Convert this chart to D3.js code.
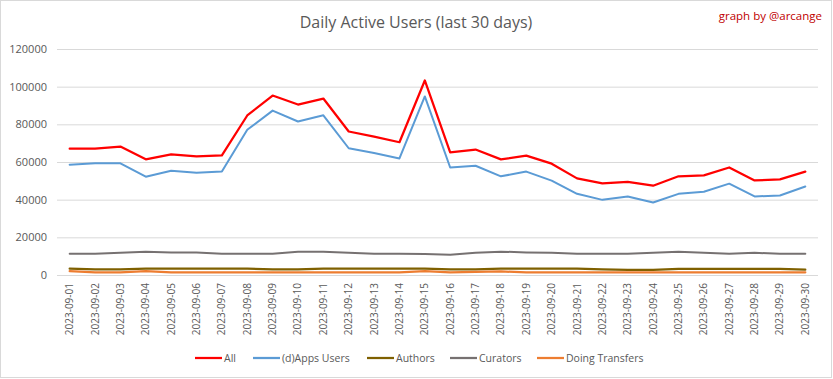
<!DOCTYPE html>
<html><head><meta charset="utf-8">
<script src="https://cdn.jsdelivr.net/npm/d3@7"></script>
<style>body{margin:0;background:#fff}svg{display:block}text{font-family:"Open Sans",sans-serif}</style>
</head><body><svg id="c" width="833" height="379"></svg>
<script>
const dates = ["2023-09-01","2023-09-02","2023-09-03","2023-09-04","2023-09-05","2023-09-06","2023-09-07","2023-09-08","2023-09-09","2023-09-10","2023-09-11","2023-09-12","2023-09-13","2023-09-14","2023-09-15","2023-09-16","2023-09-17","2023-09-18","2023-09-19","2023-09-20","2023-09-21","2023-09-22","2023-09-23","2023-09-24","2023-09-25","2023-09-26","2023-09-27","2023-09-28","2023-09-29","2023-09-30"];
const allUsers = [67100,67100,68200,61400,64100,63000,63500,84700,95300,90500,93700,76200,73500,70500,103300,65100,66600,61400,63400,59100,51300,48600,49500,47400,52400,52900,57100,50200,50800,54900];
const appsUsers = [58600,59300,59300,52200,55400,54300,54900,77100,87300,81500,84800,67300,64800,61900,94800,57100,58000,52400,54900,50100,43100,39900,41700,38500,43100,44200,48500,41700,42200,47000];
const authors = [3400,3000,3000,3400,3400,3400,3400,3400,3000,3000,3400,3400,3400,3400,3400,3000,3000,3400,3400,3400,3400,3000,2700,2700,3300,3300,3300,3300,3300,2800];
const curators = [11300,11300,11800,12400,12000,12000,11300,11300,11300,12400,12400,11800,11300,11300,11200,10700,11800,12400,12000,11800,11300,11300,11300,11800,12400,11800,11300,11800,11300,11300];
const transfers = [2000,1400,1400,2000,1400,1400,1400,1400,1400,1400,1400,1400,1400,1400,2100,1400,1600,1900,1400,1400,1400,1400,1400,1400,1400,1400,1400,1400,1400,1400];
const yTicks = [0,20000,40000,60000,80000,100000,120000];
const seriesNames = ["All","(d)Apps Users","Authors","Curators","Doing Transfers"];
const seriesColors = ["#ff0000","#5b9bd5","#7f6000","#767171","#ed7d31"];
const seriesWidths = [2.25,2,2.25,2,2.25];
const seriesData = [allUsers, appsUsers, authors, curators, transfers];

const svg = d3.select("#c");
svg.append("rect").attr("x",0.5).attr("y",0.5).attr("width",831).attr("height",377).attr("fill","#fff").attr("stroke","#d9d9d9");

const x = d3.scaleBand().domain(dates).range([57,818]);
const y = d3.scaleLinear().domain([0,120000]).range([275,49]);

svg.append("g").selectAll("line").data(yTicks).join("line")
  .attr("x1",57).attr("x2",818).attr("y1",d=>y(d)+0.5).attr("y2",d=>y(d)+0.5)
  .attr("stroke","#d9d9d9").attr("stroke-width",1);

const ya = svg.append("g").attr("transform","translate(47,0)")
  .call(d3.axisLeft(y).tickValues(yTicks).tickSize(0).tickPadding(0).tickFormat(d3.format("d")));
ya.select(".domain").remove();
ya.selectAll("text").attr("fill","#595959").style("font-size","11px").style("font-family","'Open Sans',sans-serif");

const xa = svg.append("g").attr("transform","translate(0,275)")
  .call(d3.axisBottom(x).tickSize(0).tickPadding(0));
xa.select(".domain").remove();
xa.selectAll("text").attr("fill","#595959").style("font-size","10px").style("font-family","'Open Sans',sans-serif")
  .attr("transform","rotate(-90)").attr("text-anchor","end").attr("x",-8).attr("y",0).attr("dy","0.35em");

const line = d3.line().x((d,i)=>x(dates[i])+x.bandwidth()/2).y(d=>y(d));
const order = [3,2,4,1,0];
order.forEach(k=>{
  svg.append("path").datum(seriesData[k]).attr("d",line).attr("fill","none")
    .attr("stroke",seriesColors[k]).attr("stroke-width",seriesWidths[k]).attr("stroke-linejoin","round").attr("stroke-linecap","round");
});

svg.append("text").attr("x",416).attr("y",28).attr("text-anchor","middle").attr("fill","#595959")
  .style("font-size","16px").text("Daily Active Users (last 30 days)");
svg.append("text").attr("x",822).attr("y",20).attr("text-anchor","end").attr("fill","#c00000")
  .style("font-size","11.5px").text("graph by @arcange");

const legX = [195,253,367,450,537];
const lg = svg.append("g");
seriesNames.forEach((n,i)=>{
  lg.append("line").attr("x1",legX[i]).attr("x2",legX[i]+27).attr("y1",358).attr("y2",358)
    .attr("stroke",seriesColors[i]).attr("stroke-width",2.25);
  lg.append("text").attr("x",legX[i]+29).attr("y",358).attr("dy","0.35em").attr("fill","#595959")
    .style("font-size","10.5px").text(n);
});
</script></body></html>
